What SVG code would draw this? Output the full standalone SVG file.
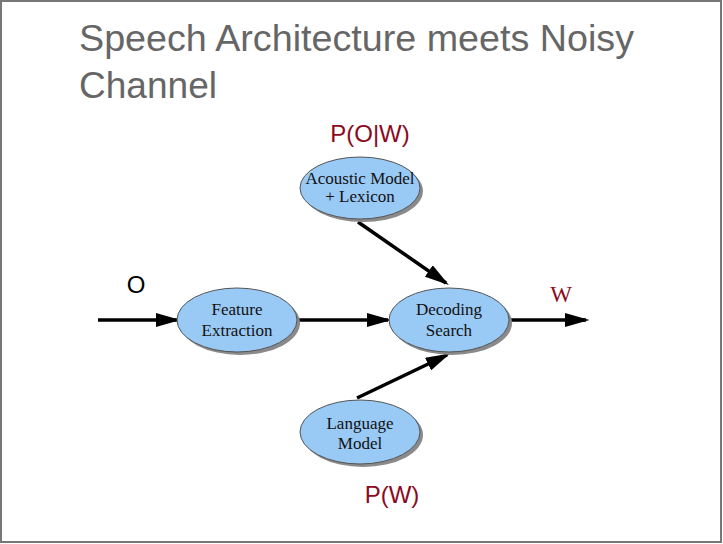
<svg xmlns="http://www.w3.org/2000/svg" width="723" height="544" viewBox="0 0 723 544">
<style>
.title{font-family:"Liberation Sans",Arial,sans-serif;font-size:37px;fill:#666}
.node{fill:#99c9f5;stroke:#555;stroke-width:1}
.shadow{fill:#8a8a8a}
.nt{font-family:"Liberation Serif","Times New Roman",serif;font-size:17px;fill:#111;text-anchor:middle}
.prob{font-family:"Liberation Sans",Arial,sans-serif;font-size:24px;fill:#8b0a1e;text-anchor:middle}
.edge{stroke:#000;stroke-width:3.5;fill:none;marker-end:url(#ah)}
</style>
<defs>
<marker id="ah" markerWidth="7" markerHeight="4" refX="6" refY="2" orient="auto" markerUnits="strokeWidth">
<path d="M0,0 L7,2 L0,4 z" fill="#000"/>
</marker>
</defs>
<rect x="0" y="0" width="723" height="544" fill="#fff"/>
<rect x="1" y="1" width="720" height="541" fill="none" stroke="#777" stroke-width="2"/>
<text class="title" x="79" y="51" textLength="555" lengthAdjust="spacingAndGlyphs">Speech Architecture meets Noisy</text>
<text class="title" x="79" y="98" textLength="138" lengthAdjust="spacingAndGlyphs">Channel</text>
<g id="connectors">
<line class="edge" x1="98" y1="320" x2="177" y2="320"/>
<line class="edge" x1="297" y1="320" x2="388" y2="320"/>
<line class="edge" x1="509" y1="320" x2="586" y2="320"/>
<line class="edge" x1="358" y1="222" x2="446" y2="283"/>
<line class="edge" x1="357" y1="398" x2="447" y2="355"/>
</g>
<g id="acoustic">
<ellipse class="shadow" cx="363" cy="191" rx="60" ry="31"/>
<ellipse class="node" cx="360" cy="188" rx="60" ry="31"/>
<text class="nt" x="360" y="184" font-size="13">Acoustic Model</text>
<text class="nt" x="360" y="202" font-size="13">+ Lexicon</text>
</g>
<g id="feature">
<ellipse class="shadow" cx="240" cy="323" rx="60" ry="32"/>
<ellipse class="node" cx="237" cy="320" rx="60" ry="32"/>
<text class="nt" x="237" y="315">Feature</text>
<text class="nt" x="237" y="336">Extraction</text>
</g>
<g id="decoding">
<ellipse class="shadow" cx="452" cy="323" rx="60" ry="32"/>
<ellipse class="node" cx="449" cy="320" rx="60" ry="32"/>
<text class="nt" x="449" y="315">Decoding</text>
<text class="nt" x="449" y="336">Search</text>
</g>
<g id="language">
<ellipse class="shadow" cx="363" cy="435" rx="60" ry="32"/>
<ellipse class="node" cx="360" cy="432" rx="60" ry="32"/>
<text class="nt" x="360" y="429">Language</text>
<text class="nt" x="360" y="449">Model</text>
</g>
<text x="136" y="293" font-family="Liberation Sans,Arial,sans-serif" font-size="24" fill="#000" text-anchor="middle">O</text>
<text x="561" y="302" font-family="Liberation Serif,Times New Roman,serif" font-size="23" fill="#8b0a1e" text-anchor="middle">W</text>
<text class="prob" x="370" y="142">P(O|W)</text>
<text class="prob" x="392" y="503">P(W)</text>
</svg>
